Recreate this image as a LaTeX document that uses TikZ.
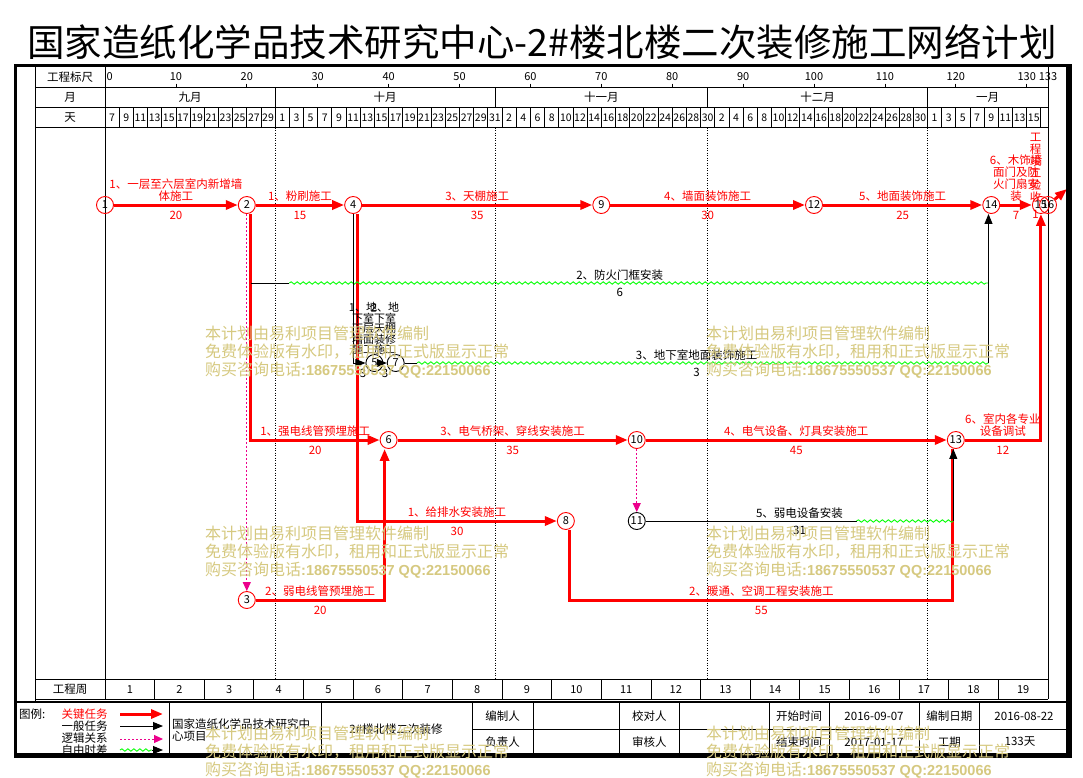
\documentclass[tikz,border=0pt]{standalone}
\usepackage{fontspec}
\setmainfont{Noto Sans CJK SC}
\newfontfamily\latfont{Liberation Sans}
\usetikzlibrary{arrows.meta,decorations.pathmorphing}
\definecolor{wmark}{RGB}{214,201,128}
\newcommand{\fsz}[1]{\fontsize{#1}{#1}\selectfont}

\begin{document}
\begin{tikzpicture}[x=1pt,y=-1pt]
\tikzstyle{every node}+=[inner sep=0pt,font=\fontsize{11.5}{12}\selectfont]
\tikzstyle{evt}=[circle,draw=red,line width=0.9pt,minimum size=17pt,font=\fsz{11}]
\tikzstyle{evtk}=[evt,draw=black]
\tikzstyle{crit}=[red,line width=3pt]
\tikzstyle{critarr}=[crit,-{Triangle[length=12pt,width=9pt]}]
\tikzstyle{gen}=[black,line width=0.9pt]
\tikzstyle{genarr}=[gen,-{Triangle[length=10pt,width=8pt]}]
\tikzstyle{logic}=[magenta,line width=1pt,dash pattern=on 2pt off 2pt,-{Triangle[length=9pt,width=8pt]}]
\tikzstyle{free}=[green,line width=0.9pt,decorate,decoration={snake,segment length=6pt,amplitude=1.2pt}]
\tikzstyle{tlab}=[above=2pt,text=red,align=center]
\tikzstyle{dur}=[below=5pt,text=red]
\tikzstyle{tlabk}=[tlab,text=black]
\tikzstyle{durk}=[dur,text=black]
\tikzstyle{grid}=[black,line width=0.8pt]
\tikzstyle{wm}=[text=wmark,font=\fsz{16},anchor=west]
\useasboundingbox (0,0) rectangle (1083,777);
\fill[white] (0,0) rectangle (1083,777);
\node[font=\fsz{37.5}] (title) at (542,42) {国家造纸化学品技术研究中心-2\#楼北楼二次装修施工网络计划};
% table of the time scale
\draw[grid] (35,67) -- (35,702);
\draw[grid] (105,67) -- (105,699.4);
\draw[grid] (1048,67) -- (1048,699.4);
\foreach \y in {87.5,107.5,127.5,679.7,699.4} \draw[grid] (35,\y) -- (1048,\y);
\node (hruler) at (70,77) {工程标尺};
\node (hmon) at (70,97.5) {月};
\node (hday) at (70,117.5) {天};
\node (hweek) at (70,689.5) {工程周};
\node[font=\fsz{11},anchor=west] (r0) at (106.5,76.5) {0};
\foreach \d in {10,20,...,130} {
  \draw[grid] ({105+7.09*\d},83.5) -- ({105+7.09*\d},87.5);
  \node[font=\fsz{11}] (r\d) at ({105+7.09*\d},76.5) {\d};
}
\node[font=\fsz{11}] (r133) at (1048,76.5) {133};
\foreach \d in {24,55,85,116} {
  \draw[grid] ({105+7.09*\d},87.5) -- ({105+7.09*\d},107.5);
  \draw[black,line width=0.8pt,dash pattern=on 1pt off 1.5pt] ({105+7.09*\d},127.5) -- ({105+7.09*\d},679.7);
}
\foreach \m/\x [count=\i] in {九月/190,十月/385,十一月/601.3,十二月/817.5,一月/987.7}
  \node (mon\i) at (\x,97.5) {\m};
\foreach \i in {0,...,66} \draw[grid] ({105+14.18*\i},107.5) -- ({105+14.18*\i},127.5);
\foreach \t [count=\i from 0] in {7,9,11,13,15,17,19,21,23,25,27,29,1,3,5,7,9,11,13,15,17,19,21,23,25,27,29,31,2,4,6,8,10,12,14,16,18,20,22,24,26,28,30,2,4,6,8,10,12,14,16,18,20,22,24,26,28,30,1,3,5,7,9,11,13,15}
  \node[font=\fsz{10.5}] (day\i) at ({112.09+14.18*\i},117.5) {\t};
\foreach \w in {1,...,18} \draw[grid] ({105+49.63*\w},679.7) -- ({105+49.63*\w},699.4);
\foreach \w in {1,...,19} \node[font=\fsz{11}] (wk\w) at ({80.185+49.63*\w},689.5) {\w};
% events
\node[evt] (n1) at (105,205) {1};
\node[evt] (n2) at (246.8,205) {2};
\node[evt] (n4) at (353.15,205) {4};
\node[evt] (n9) at (601.3,205) {9};
\node[evt] (n12) at (814,205) {12};
\node[evt] (n14) at (991.25,205) {14};
\node[evt] (n15) at (1040.9,205) {15};
\node[evt] (n16) at (1048,205) {16};
\node[evtk] (n5) at (374.4,363) {5};
\node[evtk] (n7) at (395.7,363) {7};
\node[evt] (n6) at (388.6,440) {6};
\node[evt] (n10) at (636.75,440) {10};
\node[evt] (n13) at (955.8,440) {13};
\node[evt] (n8) at (565.85,521) {8};
\node[evtk] (n11) at (636.75,521) {11};
\node[evt] (n3) at (246.8,600) {3};
% critical tasks
\draw[critarr] (n1) -- node[tlab] (l1) {1、一层至六层室内新增墙\\体施工} node[dur] (d1) {20} (n2);
\draw[critarr] (n2) -- node[tlab] (l2) {1、粉刷施工} node[dur] (d2) {15} (n4);
\draw[critarr] (n4) -- node[tlab] (l4) {3、天棚施工} node[dur] (d4) {35} (n9);
\draw[critarr] (n9) -- node[tlab] (l9) {4、墙面装饰施工} node[dur] (d9) {30} (n12);
\draw[critarr] (n12) -- node[tlab] (l12) {5、地面装饰施工} node[dur] (d12) {25} (n14);
\draw[critarr] (n14) -- node[tlab] (l14) {6、木饰墙\\面门及防\\火门扇安\\装} node[dur] (d14) {7} (n15);
\path (n15) -- node[tlab] (l15) {工\\程\\竣\\工\\验\\收} node[dur] (d15) {1} (n16);
\coordinate (fin) at (1067,189);
\draw[critarr] (n16) -- (fin);
\draw[critarr] ([xshift=4pt]n2.south) |- node[tlab,pos=0.75] (l26) {1、强电线管预埋施工} node[dur,pos=0.75] (d26) {20} (n6);
\draw[critarr] (n3) -| node[tlab,pos=0.25] (l3) {2、弱电线管预埋施工} node[dur,pos=0.25] (d3) {20} ([xshift=-4pt]n6.south);
\draw[critarr] ([xshift=4pt]n4.south) |- node[tlab,pos=0.75] (l48) {1、给排水安装施工} node[dur,pos=0.75] (d48) {30} (n8);
\draw[critarr] (n6) -- node[tlab] (l6) {3、电气桥架、穿线安装施工} node[dur] (d6) {35} (n10);
\draw[critarr] (n10) -- node[tlab] (l10) {4、电气设备、灯具安装施工} node[dur] (d10) {45} (n13);
\coordinate (c8) at (952.8,600);
\draw[crit] ([xshift=4pt]n8.south) |- node[tlab,pos=0.75] (l8) {2、暖通、空调工程安装施工} node[dur,pos=0.75] (d8) {55} (c8) -- (c8 |- n13.south);
\draw[critarr] (n13) -| node[tlab,pos=0.25] (l13) {6、室内各专业\\设备调试} node[dur,pos=0.25] (d13) {12} (n15);
% other tasks
\draw[logic] (n2) -- (n3);
\draw[logic] (n10) -- (n11);
\coordinate (f2a) at (251,283);
\coordinate (f2b) at (289.3,283);
\coordinate (f2c) at (988.5,283);
\draw[gen] (f2a) -- (f2b);
\draw[free] (f2b) -- (f2c);
\path (f2a) -- node[tlabk] (lf2) {2、防火门框安装} node[durk] (df2) {6} (f2c);
\draw[genarr] (n4.south) |- (n5);
\draw[genarr] (n5) -- (n7);
\coordinate (f7b) at (417,363);
\coordinate (f7c) at (988.5,363);
\draw[gen] (n7) -- (f7b);
\draw[free] (f7b) -- (f7c);
\draw[genarr] (f7c) -- (f7c |- n14.south);
\path (n7) -- node[tlabk] (lf7) {3、地下室地面装饰施工} node[durk] (df7) {3} (f7c);
\coordinate (f11b) at (856.5,521);
\coordinate (f11c) at (953.3,521);
\draw[gen] (n11) -- (f11b);
\draw[free] (f11b) -- (f11c);
\draw[genarr] (f11c) -- (f11c |- n13.south);
\path (n11) -- node[tlabk] (lf11) {5、弱电设备安装} node[durk] (df11) {31} (f11c);
\node[font=\fontsize{11}{10.5}\selectfont,align=center,anchor=south] (la) at (363,355) {1、地\\下室\\下层\\墙面\\施工};
\node[font=\fontsize{11}{10.5}\selectfont,align=center,anchor=south] (lb) at (385,355) {2、地\\下室\\天棚\\装修\\施工};
\node (da) at (363,373) {3};
\node (db) at (385,373) {3};
% legend
\draw[line width=2.5pt] (15,702) -- (1069,702);
\foreach \x in {169.6,321,472,533,619.6,679,769,829,919,979.5} \draw[grid] (\x,702) -- (\x,755);
\draw[grid] (472,729.5) -- (1069,729.5);
\node[anchor=west] (lg) at (19,714) {图例:};
\node[anchor=west,text=red] (lg1) at (61.5,714) {关键任务};
\node[anchor=west] (lg2) at (61.5,726) {一般任务};
\node[anchor=west] (lg3) at (61.5,738) {逻辑关系};
\node[anchor=west] (lg4) at (61.5,750) {自由时差};
\coordinate (lg1a) at (120,714); \coordinate (lg1b) at (163,714);
\coordinate (lg2a) at (120,726); \coordinate (lg2b) at (163,726);
\coordinate (lg3a) at (120,739); \coordinate (lg3b) at (163,739);
\coordinate (lg4a) at (120,750); \coordinate (lg4m) at (152,750); \coordinate (lg4b) at (163,750);
\draw[critarr] (lg1a) -- (lg1b);
\draw[genarr] (lg2a) -- (lg2b);
\draw[logic] (lg3a) -- (lg3b);
\draw[free] (lg4a) -- (lg4m);
\draw[genarr] (lg4m) -- (lg4b);
\node[anchor=west,align=left] (tprj) at (172,730) {国家造纸化学品技术研究中\\心项目};
\node (tbld) at (396,729) {2\#楼北楼二次装修};
\node (tbz) at (502.5,716) {编制人};
\node (tfz) at (502.5,742) {负责人};
\node (tjd) at (649.3,716) {校对人};
\node (tsh) at (649.3,742) {审核人};
\node (tks) at (799,716) {开始时间};
\node (tjs) at (799,742) {结束时间};
\node (vks) at (874,716) {2016-09-07};
\node (vjs) at (874,742) {2017-01-17};
\node (tbr) at (949.3,716) {编制日期};
\node (tgq) at (949.3,742) {工期};
\node (vbr) at (1024,716) {2016-08-22};
\node (vgq) at (1020,742) {133天};
% outer frame
\draw[line width=3pt] (15.5,755) -- (15.5,65.8) -- (1069,65.8);
\draw[line width=5.5pt] (1069,64.3) -- (1069,755.5) -- (14,755.5);
% watermark
\foreach \wx/\wy [count=\k] in {205/333,706/333,205/533,706/533,205/733,706/733} {
  \node[wm] (wma\k) at (\wx,\wy) {本计划由易利项目管理软件编制};
  \node[wm] (wmb\k) at (\wx,\wy+18.5) {免费体验版有水印，租用和正式版显示正常};
  \node[wm] (wmc\k) at (\wx,\wy+37) {购买咨询电话{\latfont\bfseries\fsz{14.5}:18675550537 QQ:22150066}};
}
\end{tikzpicture}
\end{document}
